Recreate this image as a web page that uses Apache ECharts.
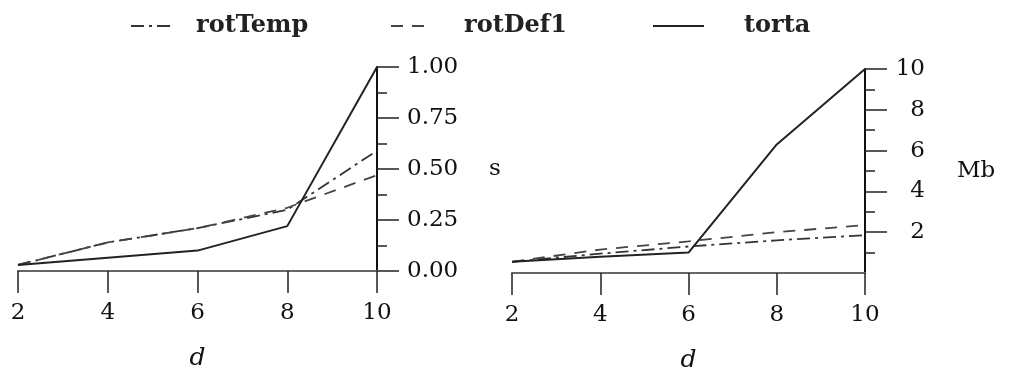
<!DOCTYPE html>
<html>
<head>
<meta charset="utf-8">
<script src="https://cdn.jsdelivr.net/npm/echarts@6/dist/echarts.min.js"></script>
<style>
html,body{margin:0;padding:0;background:#fff;}
#chart{width:1009px;height:382px;}
</style>
</head>
<body>
<div id="chart"></div>
<script>
// ---- data ----
const dValues = [2, 4, 6, 8, 10];
const timeRotTemp = [0.03, 0.14, 0.21, 0.30, 0.59];
const timeRotDef1 = [0.03, 0.14, 0.21, 0.31, 0.47];
const timeTorta   = [0.03, 0.065, 0.10, 0.22, 1.00];
const memRotTemp  = [0.55, 0.95, 1.3, 1.6, 1.85];
const memRotDef1  = [0.55, 1.15, 1.55, 2.0, 2.35];
const memTorta    = [0.55, 0.8, 1.0, 6.3, 10.0];
const seriesNames = ['rotTemp', 'rotDef1', 'torta'];
const memTicks = [2, 4, 6, 8, 10];

const FONT = 'DejaVu Serif';
const pairs = (ys) => dValues.map((x, i) => [x, ys[i]]);

const styles = {
  rotTemp: { type: [13, 5, 3, 5], width: 1.8, color: '#333' },
  rotDef1: { type: [12, 9], width: 1.8, color: '#444' },
  torta:   { type: 'solid', width: 2, color: '#222' }
};

function mkSeries(name, data, idx) {
  return {
    name: name, type: 'line', xAxisIndex: idx, yAxisIndex: idx,
    data: pairs(data), symbol: 'none', showSymbol: false,
    lineStyle: Object.assign({}, styles[name]),
    itemStyle: { color: styles[name].color },
    z: name === 'torta' ? 3 : 2
  };
}

function xAxisDef(idx) {
  return {
    gridIndex: idx, type: 'value', min: 2, max: 10, interval: 2,
    name: 'd', nameLocation: 'middle', nameGap: 75,
    nameTextStyle: { fontFamily: FONT, fontStyle: 'italic', fontSize: 25, color: '#111' },
    axisLine: { show: true, lineStyle: { color: '#666', width: 2 } },
    axisTick: { show: true, inside: false, length: 22, lineStyle: { color: '#222', width: 1.5 } },
    axisLabel: { margin: 31, fontFamily: FONT, fontSize: 23, color: '#111' },
    splitLine: { show: false }
  };
}

function legendDef(name, left, iconW, gap) {
  return {
    top: 14, left: left, padding: 0, orient: 'horizontal',
    itemWidth: iconW, itemHeight: 14, data: [name],
    itemStyle: { opacity: 0 },
    textStyle: { fontFamily: FONT, fontSize: 24, fontWeight: 'bold', color: '#222',
      padding: [0, 0, 0, gap] }
  };
}

const option = {
  animation: false,
  backgroundColor: '#fff',
  legend: [
    legendDef('rotTemp', 130, 40, 20),
    legendDef('rotDef1', 390, 37, 31),
    legendDef('torta', 652, 51, 35)
  ],
  grid: [
    { left: 18, top: 67, width: 359, height: 204 },
    { left: 512, top: 69, width: 353, height: 204 }
  ],
  xAxis: [xAxisDef(0), xAxisDef(1)],
  yAxis: [
    {
      gridIndex: 0, type: 'value', position: 'right', min: 0, max: 1, interval: 0.25,
      name: 's', nameLocation: 'middle', nameGap: 112, nameRotate: 0,
      nameTextStyle: { fontFamily: FONT, fontSize: 23, color: '#111' },
      axisLine: { show: true, lineStyle: { color: '#111', width: 2 } },
      axisTick: { show: true, inside: false, length: 22, lineStyle: { color: '#222', width: 1.5 } },
      minorTick: { show: true, splitNumber: 2, length: 10, lineStyle: { color: '#222', width: 1.5 } },
      axisLabel: { margin: 30, fontFamily: FONT, fontSize: 23, color: '#111',
        formatter: (v) => v.toFixed(2) },
      splitLine: { show: false }, minorSplitLine: { show: false }
    },
    {
      gridIndex: 1, type: 'value', position: 'right', min: 0, max: 10, interval: 2,
      name: 'Mb', nameLocation: 'middle', nameGap: 92, nameRotate: 0,
      nameTextStyle: { fontFamily: FONT, fontSize: 23, color: '#111', align: 'left' },
      axisLine: { show: true, lineStyle: { color: '#111', width: 2 } },
      axisTick: { show: true, inside: false, length: 22, customValues: memTicks,
        lineStyle: { color: '#222', width: 1.5 } },
      minorTick: { show: true, splitNumber: 2, length: 10, lineStyle: { color: '#222', width: 1.5 } },
      axisLabel: { margin: 60, align: 'right', customValues: memTicks,
        fontFamily: FONT, fontSize: 23, color: '#111' },
      splitLine: { show: false }, minorSplitLine: { show: false }
    }
  ],
  series: [
    mkSeries('rotTemp', timeRotTemp, 0),
    mkSeries('rotDef1', timeRotDef1, 0),
    mkSeries('torta', timeTorta, 0),
    mkSeries('rotTemp', memRotTemp, 1),
    mkSeries('rotDef1', memRotDef1, 1),
    mkSeries('torta', memTorta, 1)
  ]
};

const chart = echarts.init(document.getElementById('chart'), null, { renderer: 'canvas' });
chart.setOption(option);
</script>
</body>
</html>
